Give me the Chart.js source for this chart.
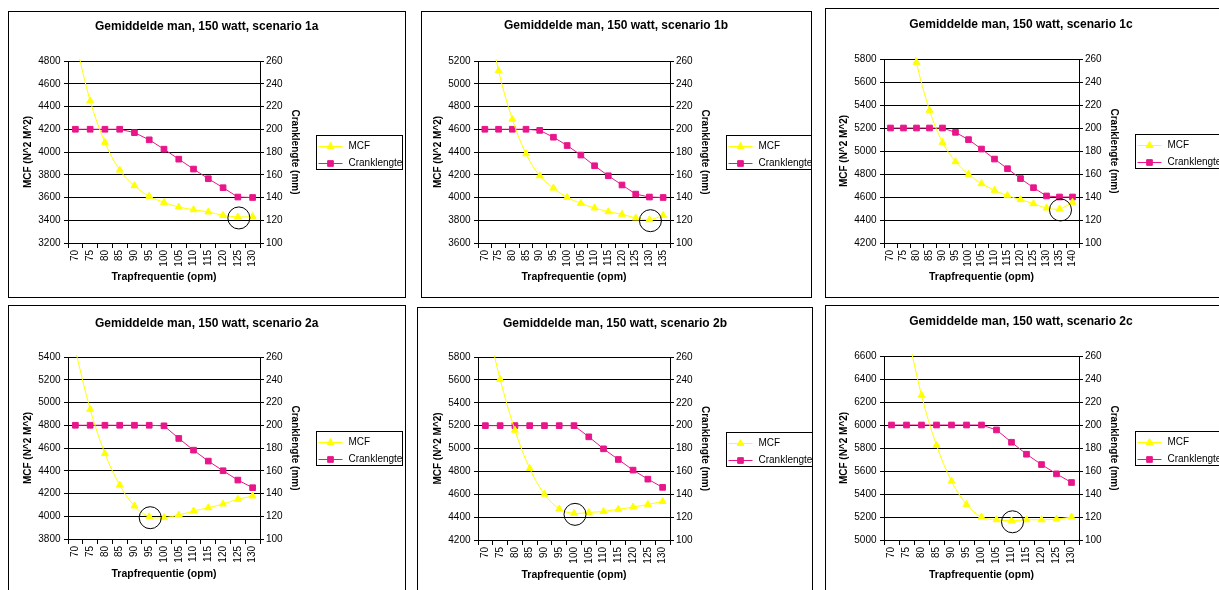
<!DOCTYPE html>
<html>
<head>
<meta charset="utf-8">
<script src="https://cdn.jsdelivr.net/npm/chart.js@4.4.1/dist/chart.umd.min.js"></script>
<style>
html,body{margin:0;padding:0;background:#fff;overflow:hidden;width:1219px;height:590px;}
.panel{position:absolute;box-sizing:border-box;border:1px solid #000;background:#fff;overflow:hidden;}
.panel canvas{position:absolute;left:0;top:0;}
</style>
</head>
<body>
<script>
// ---------------- DATA ----------------
const SERIES_MCF = 'MCF';
const SERIES_CRANK = 'Cranklengte';
const X_AXIS_TITLE = 'Trapfrequentie (opm)';
const Y_LEFT_TITLE = 'MCF (N^2 M^2)';
const Y_RIGHT_TITLE = 'Cranklengte (mm)';

const title1a = 'Gemiddelde man, 150 watt, scenario 1a';
const title1b = 'Gemiddelde man, 150 watt, scenario 1b';
const title1c = 'Gemiddelde man, 150 watt, scenario 1c';
const title2a = 'Gemiddelde man, 150 watt, scenario 2a';
const title2b = 'Gemiddelde man, 150 watt, scenario 2b';
const title2c = 'Gemiddelde man, 150 watt, scenario 2c';

const cat1a = [70, 75, 80, 85, 90, 95, 100, 105, 110, 115, 120, 125, 130];
const mcf1a = [4980, 4450, 4085, 3841, 3704, 3610, 3557, 3516, 3493, 3473, 3443, 3429, 3432];
const crank1a = [200, 200, 200, 200, 197, 190.7, 182.5, 173.7, 165, 156.5, 148.6, 140.4, 140];

const cat1b = [70, 75, 80, 85, 90, 95, 100, 105, 110, 115, 120, 125, 130, 135];
const mcf1b = [5720, 5115, 4688, 4384, 4191, 4083, 4001, 3949, 3908, 3875, 3852, 3820, 3805, 3843];
const crank1b = [200, 200, 200, 200, 199, 193, 185.7, 177.3, 167.9, 159.1, 151, 143, 140.4, 140];

const cat1c = [70, 75, 80, 85, 90, 95, 100, 105, 110, 115, 120, 125, 130, 135, 140];
const mcf1c = [7320, 6390, 5771, 5354, 5075, 4907, 4797, 4716, 4658, 4612, 4577, 4542, 4504, 4496, 4554];
const crank1c = [200, 200, 200, 200, 200, 196.2, 189.9, 181.7, 173, 164.6, 156, 148.1, 140.9, 140, 140];

const cat2a = [70, 75, 80, 85, 90, 95, 100, 105, 110, 115, 120, 125, 130];
const mcf2a = [5460, 4940, 4552, 4274, 4090, 3996, 3988, 4011, 4046, 4075, 4108, 4149, 4178];
const crank2a = [200, 200, 200, 200, 200, 200, 199.5, 188.4, 178.1, 168.5, 160, 151.8, 145.1];

const cat2b = [70, 75, 80, 85, 90, 95, 100, 105, 110, 115, 120, 125, 130];
const mcf2b = [6150, 5605, 5160, 4825, 4601, 4471, 4433, 4441, 4450, 4468, 4488, 4511, 4537];
const crank2b = [200, 200, 200, 200, 200, 200, 200, 190.2, 179.7, 170.4, 161.1, 153.2, 146];

const cat2c = [70, 75, 80, 85, 90, 95, 100, 105, 110, 115, 120, 125, 130];
const mcf2c = [7660, 6863, 6259, 5824, 5512, 5309, 5199, 5176, 5167, 5176, 5176, 5182, 5199];
const crank2c = [200, 200, 200, 200, 200, 200, 200, 195.7, 185, 174.6, 165.6, 157.5, 150];

// left axis ranges [min, max]
const mcfAxis1a = [3200, 4800];
const mcfAxis1b = [3600, 5200];
const mcfAxis1c = [4200, 5800];
const mcfAxis2a = [3800, 5400];
const mcfAxis2b = [4200, 5800];
const mcfAxis2c = [5000, 6600];
const mcfStep = 200;
const crankAxis = [100, 260];
const crankStep = 20;

// circled optimum (category)
const circled1a = 125;
const circled1b = 130;
const circled1c = 135;
const circled2a = 95;
const circled2b = 100;
const circled2c = 110;

// ---------------- LAYOUT (styles/positions) ----------------
const LAYOUT = [
  {x: 8,   y: 11,  w: 398, h: 287, plot: [68, 260, 61, 243],   titleY: 26.7, xTitleY: 277},
  {x: 421, y: 11,  w: 391, h: 287, plot: [478, 670, 61, 243],  titleY: 26,   xTitleY: 277},
  {x: 825, y: 8,   w: 420, h: 290, plot: [884, 1079, 59, 243], titleY: 25,   xTitleY: 277},
  {x: 8,   y: 305, w: 398, h: 300, plot: [68, 260, 357, 539],  titleY: 323.3, xTitleY: 574},
  {x: 417, y: 307, w: 396, h: 300, plot: [478, 670, 357, 540], titleY: 323.3, xTitleY: 575},
  {x: 825, y: 305, w: 420, h: 300, plot: [884, 1079, 356, 540], titleY: 322, xTitleY: 575}
];
// visible width of the panels that run past the right edge of the page (title centring)
const TITLE_CENTER_X = [206.7, 616, 1021, 206.7, 615, 1021];

const PANELS = [
  {title: title1a, cats: cat1a, mcf: mcf1a, crank: crank1a, axis: mcfAxis1a, circled: circled1a},
  {title: title1b, cats: cat1b, mcf: mcf1b, crank: crank1b, axis: mcfAxis1b, circled: circled1b},
  {title: title1c, cats: cat1c, mcf: mcf1c, crank: crank1c, axis: mcfAxis1c, circled: circled1c},
  {title: title2a, cats: cat2a, mcf: mcf2a, crank: crank2a, axis: mcfAxis2a, circled: circled2a},
  {title: title2b, cats: cat2b, mcf: mcf2b, crank: crank2b, axis: mcfAxis2b, circled: circled2b},
  {title: title2c, cats: cat2c, mcf: mcf2c, crank: crank2c, axis: mcfAxis2c, circled: circled2c}
];

const YELLOW = '#FFFF00';
const PINK = '#E8168A';
const FONT = "'Liberation Sans', Arial, Helvetica, sans-serif";

Chart.defaults.font.family = FONT;
Chart.defaults.color = '#000';

const overlayPlugin = {
  id: 'overlay',
  afterDraw(chart) {
    const ctx = chart.ctx;
    const ca = chart.chartArea;
    const cfg = chart.options.plugins.overlay;
    const idx = cfg.circledIndex;
    const pt = chart.getDatasetMeta(0).data[idx];
    if (pt) {
      ctx.save();
      ctx.beginPath();
      ctx.arc(pt.x + 1, pt.y + 1, 11, 0, Math.PI * 2);
      ctx.strokeStyle = '#000';
      ctx.lineWidth = 1;
      ctx.stroke();
      ctx.restore();
    }
    const bx = Math.round(ca.right + 56) + 0.5;
    const by = Math.round((ca.top + ca.bottom) / 2 - 17) + 0.5;
    const bw = 86, bh = 34;
    ctx.save();
    ctx.fillStyle = '#fff';
    ctx.fillRect(bx, by, bw, bh);
    ctx.strokeStyle = '#000';
    ctx.lineWidth = 1;
    ctx.strokeRect(bx, by, bw, bh);
    const items = chart.data.datasets;
    const rows = [by + 10, by + 27];
    items.forEach((ds, i) => {
      const yy = Math.round(rows[i]) + 0.5;
      ctx.strokeStyle = ds.borderColor;
      ctx.lineWidth = 1;
      ctx.beginPath();
      ctx.moveTo(bx + 2, yy);
      ctx.lineTo(bx + 26, yy);
      ctx.stroke();
      ctx.fillStyle = ds.backgroundColor;
      ctx.strokeStyle = ds.borderColor;
      Chart.helpers.drawPoint(ctx, {pointStyle: ds.pointStyle, radius: 4, rotation: 0, borderWidth: 1}, bx + 14, yy);
      ctx.fillStyle = '#000';
      ctx.font = '10px ' + FONT;
      ctx.textAlign = 'left';
      ctx.textBaseline = 'middle';
      ctx.fillText(ds.label, bx + 32, yy);
    });
    ctx.restore();
  }
};

const plainTick = (v) => String(v);

PANELS.forEach((d, k) => {
  const L = LAYOUT[k];
  const div = document.createElement('div');
  div.className = 'panel';
  div.style.left = L.x + 'px';
  div.style.top = L.y + 'px';
  div.style.width = L.w + 'px';
  div.style.height = L.h + 'px';
  document.body.appendChild(div);
  const cx = L.x + 1, cy = L.y + 1, cw = L.w - 2, ch = L.h - 2;
  const canvas = document.createElement('canvas');
  canvas.width = cw; canvas.height = ch;
  canvas.style.width = cw + 'px'; canvas.style.height = ch + 'px';
  div.appendChild(canvas);

  const plotL = L.plot[0] - cx, plotR = L.plot[1] - cx, plotT = L.plot[2] - cy, plotB = L.plot[3] - cy;
  const W2 = cw - plotR;
  const titleLH = 12 * 1.2;
  const tPadTop = (L.titleY - cy) - titleLH / 2;
  const tPadBottom = plotT - tPadTop - titleLH;
  const yTitleLH = 10 * 1.2;
  const xTitleLH = 10.5 * 1.2;
  const yLeftPad = (L.plot[0] - 40 - cx) - yTitleLH / 2;
  const yRightPad = W2 - 35 - yTitleLH / 2;
  const xPadB = ch - (L.xTitleY - cy) - xTitleLH / 2;
  // title box: shift by using padding on the left/right so that its centre lands at TITLE_CENTER_X
  const tcx = TITLE_CENTER_X[k] - cx;
  const tLeft = Math.max(0, 2 * tcx - cw);
  const tRight = Math.max(0, cw - 2 * tcx);

  new Chart(canvas, {
    type: 'line',
    data: {
      labels: d.cats,
      datasets: [
        {label: SERIES_MCF, data: d.mcf, yAxisID: 'y', borderColor: YELLOW, backgroundColor: YELLOW,
         pointStyle: 'triangle', pointRadius: 4, pointBorderWidth: 1, borderWidth: 1, tension: 0.35,
         clip: {left: 0, top: 2, right: 0, bottom: 0}},
        {label: SERIES_CRANK, data: d.crank, yAxisID: 'y2', borderColor: PINK, backgroundColor: PINK,
         pointStyle: 'rect', pointRadius: 4, pointBorderWidth: 1, borderWidth: 1, tension: 0}
      ]
    },
    options: {
      responsive: false,
      animation: false,
      devicePixelRatio: 1,
      events: [],
      layout: {padding: 0},
      plugins: {
        legend: {display: false},
        tooltip: {enabled: false},
        title: {display: false},
        overlay: {circledIndex: d.cats.indexOf(d.circled)},
        panelTitle: {text: d.title, x: tcx, y: L.titleY - cy, padTop: plotT}
      },
      scales: {
        x: {
          type: 'category', offset: true,
          grid: {offset: true, drawOnChartArea: false, tickLength: 5, color: '#000'},
          border: {color: '#000', width: 1},
          ticks: {minRotation: 90, maxRotation: 90, autoSkip: false, padding: 2, color: '#000', font: {size: 10}},
          title: {display: true, text: X_AXIS_TITLE, color: '#000', font: {size: 10.5, weight: 'bold', lineHeight: 1.2},
                  padding: {top: 0, bottom: xPadB}},
          afterFit(s) { s.height = ch - plotB; }
        },
        y: {
          position: 'left', min: d.axis[0], max: d.axis[1],
          ticks: {stepSize: mcfStep, padding: 3.5, color: '#000', font: {size: 10}, callback: plainTick},
          grid: {color: '#000', tickLength: 4, lineWidth: 1},
          border: {color: '#000', width: 1},
          title: {display: true, text: Y_LEFT_TITLE, color: '#000', font: {size: 10, weight: 'bold', lineHeight: 1.2},
                  padding: {top: yLeftPad, bottom: 0}},
          afterFit(s) { s.width = plotL; }
        },
        y2: {
          position: 'right', min: crankAxis[0], max: crankAxis[1],
          ticks: {stepSize: crankStep, padding: 2, color: '#000', font: {size: 10}, callback: plainTick},
          grid: {drawOnChartArea: false, color: '#000', tickLength: 4},
          border: {color: '#000', width: 1},
          title: {display: true, text: Y_RIGHT_TITLE, color: '#000', font: {size: 10, weight: 'bold', lineHeight: 1.2},
                  padding: {top: yRightPad, bottom: 0}},
          afterFit(s) { s.width = W2; }
        }
      }
    },
    plugins: [overlayPlugin, {
      id: 'panelTitle',
      beforeLayout(chart) {
        // reserve space above the plot area for the title
        chart.options.layout.padding = {left: 0, right: 0, bottom: 0, top: chart.options.plugins.panelTitle.padTop};
      },
      afterDraw(chart) {
        const o = chart.options.plugins.panelTitle;
        const ctx = chart.ctx;
        ctx.save();
        ctx.fillStyle = '#000';
        ctx.font = 'bold 12px ' + FONT;
        ctx.textAlign = 'center';
        ctx.textBaseline = 'middle';
        ctx.fillText(o.text, o.x, o.y);
        ctx.restore();
      }
    }]
  });
});
</script>
</body>
</html>
